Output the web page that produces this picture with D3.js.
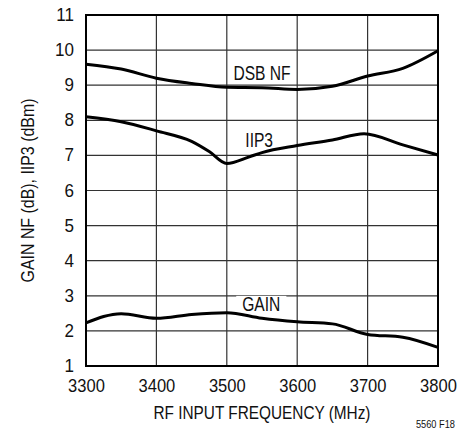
<!DOCTYPE html>
<html>
<head>
<meta charset="utf-8">
<script src="https://cdn.jsdelivr.net/npm/d3@7"></script>
<style>
  body { margin: 0; background: #fff; }
  svg { display: block; }
  text { font-family: "Liberation Sans", Arial, sans-serif; fill: #111; }
</style>
</head>
<body>
<div id="vizcont"></div>
<script>
// frequency points (MHz)
var freqNF = [3300, 3350, 3400, 3450, 3500, 3550, 3600, 3650, 3700, 3750, 3800];
var dsbNF = [9.60, 9.46, 9.20, 9.05, 8.94, 8.93, 8.88, 8.97, 9.26, 9.48, 9.98];

var freqIIP3 = [3300, 3350, 3400, 3450, 3475, 3500, 3532, 3550, 3600, 3650, 3695, 3750, 3800];
var iip3 = [8.10, 7.96, 7.70, 7.40, 7.11, 6.77, 6.96, 7.08, 7.28, 7.44, 7.62, 7.30, 7.01];

var freqGain = [3300, 3350, 3400, 3450, 3500, 3550, 3600, 3650, 3700, 3750, 3800];
var gain = [2.23, 2.49, 2.36, 2.47, 2.52, 2.36, 2.26, 2.20, 1.90, 1.82, 1.53];

var xTicks = [3300, 3400, 3500, 3600, 3700, 3800];
var yTicks = [1, 2, 3, 4, 5, 6, 7, 8, 9, 10, 11];

// curve labels: [text, freq, value at baseline]
var labels = [
  ["DSB NF", 3550, 9.15],
  ["IIP3", 3546, 7.23],
  ["GAIN", 3549, 2.57]
];

var W = 459, H = 431;
var margin = {top: 15, right: 21, bottom: 65, left: 86};
var width = W - margin.left - margin.right;
var height = H - margin.top - margin.bottom;

// squeeze a text horizontally (the original uses a condensed face)
function condense(sel, k) {
  sel.each(function() {
    var len = this.getComputedTextLength();
    d3.select(this)
      .attr("textLength", len * k)
      .attr("lengthAdjust", "spacingAndGlyphs");
  });
}

var svg = d3.select("#vizcont")
    .append("svg")
    .attr("width", W)
    .attr("height", H);

var g = svg.append("g")
    .attr("transform", "translate(" + margin.left + "," + margin.top + ")");

var x = d3.scaleLinear().domain([3300, 3800]).range([0, width]);
var y = d3.scaleLinear().domain([1, 11]).range([height, 0]);

// grid
g.append("g")
  .selectAll("line")
  .data(xTicks)
  .enter().append("line")
    .attr("x1", function(d) { return x(d); })
    .attr("x2", function(d) { return x(d); })
    .attr("y1", 0)
    .attr("y2", height)
    .attr("stroke", "#333")
    .style("stroke-width", "1.2px");

g.append("g")
  .selectAll("line")
  .data(yTicks)
  .enter().append("line")
    .attr("x1", 0)
    .attr("x2", width)
    .attr("y1", function(d) { return y(d); })
    .attr("y2", function(d) { return y(d); })
    .attr("stroke", "#333")
    .style("stroke-width", "1.2px");

// axes (labels only)
var xAxis = g.append("g")
  .attr("transform", "translate(0," + height + ")")
  .call(d3.axisBottom(x).tickValues(xTicks).tickSize(0).tickFormat(d3.format("d")));
xAxis.select(".domain").remove();
xAxis.selectAll("text")
  .attr("y", 26)
  .attr("dy", 0)
  .attr("fill", "#111")
  .style("font-size", "19px")
  .style("font-family", "'Liberation Sans', Arial, sans-serif")
  .call(condense, 0.87);

var yAxis = g.append("g")
  .call(d3.axisLeft(y).tickValues(yTicks).tickSize(0).tickPadding(12).tickFormat(d3.format("d")));
yAxis.select(".domain").remove();
yAxis.selectAll("text")
  .attr("dy", "0.3em")
  .attr("fill", "#111")
  .style("font-size", "18.5px")
  .style("font-family", "'Liberation Sans', Arial, sans-serif")
  .call(condense, 0.92);

// frame
g.append("rect")
  .attr("x", 0)
  .attr("y", 0)
  .attr("width", width)
  .attr("height", height)
  .attr("fill", "none")
  .attr("stroke", "#000")
  .style("stroke-width", "2px");

// curves
var line = d3.line()
  .x(function(d) { return x(d[0]); })
  .y(function(d) { return y(d[1]); })
  .curve(d3.curveMonotoneX);

[[freqNF, dsbNF], [freqIIP3, iip3], [freqGain, gain]].forEach(function(s) {
  g.append("path")
    .datum(d3.zip(s[0], s[1]))
    .attr("d", line)
    .attr("fill", "none")
    .attr("stroke", "#000")
    .style("stroke-width", "3px")
    .style("stroke-linejoin", "round");
});

// curve labels
labels.forEach(function(l) {
  var t = g.append("text")
    .attr("x", x(l[1]))
    .attr("y", y(l[2]))
    .attr("text-anchor", "middle")
    .style("font-size", "19.5px")
    .text(l[0])
    .call(condense, 0.8);
  if (l[0] == "GAIN") {
    // white patch behind GAIN cuts the grid line
    var bb = t.node().getBBox();
    g.insert("rect", function() { return t.node(); })
      .attr("x", bb.x - 6)
      .attr("y", bb.y + 3)
      .attr("width", bb.width + 12)
      .attr("height", bb.height - 6)
      .attr("fill", "#fff");
  }
});

// axis titles
svg.append("text")
  .attr("x", margin.left + width / 2)
  .attr("y", 419)
  .attr("text-anchor", "middle")
  .style("font-size", "18.5px")
  .text("RF INPUT FREQUENCY (MHz)")
  .call(condense, 0.83);

svg.append("text")
  .attr("transform", "translate(34," + (margin.top + height / 2) + ") rotate(-90)")
  .attr("text-anchor", "middle")
  .style("font-size", "18.5px")
  .text("GAIN NF (dB), IIP3 (dBm)")
  .call(condense, 0.86);

svg.append("text")
  .attr("x", 455)
  .attr("y", 428)
  .attr("text-anchor", "end")
  .style("font-size", "11px")
  .text("5560 F18")
  .call(condense, 0.84);
</script>
</body>
</html>
